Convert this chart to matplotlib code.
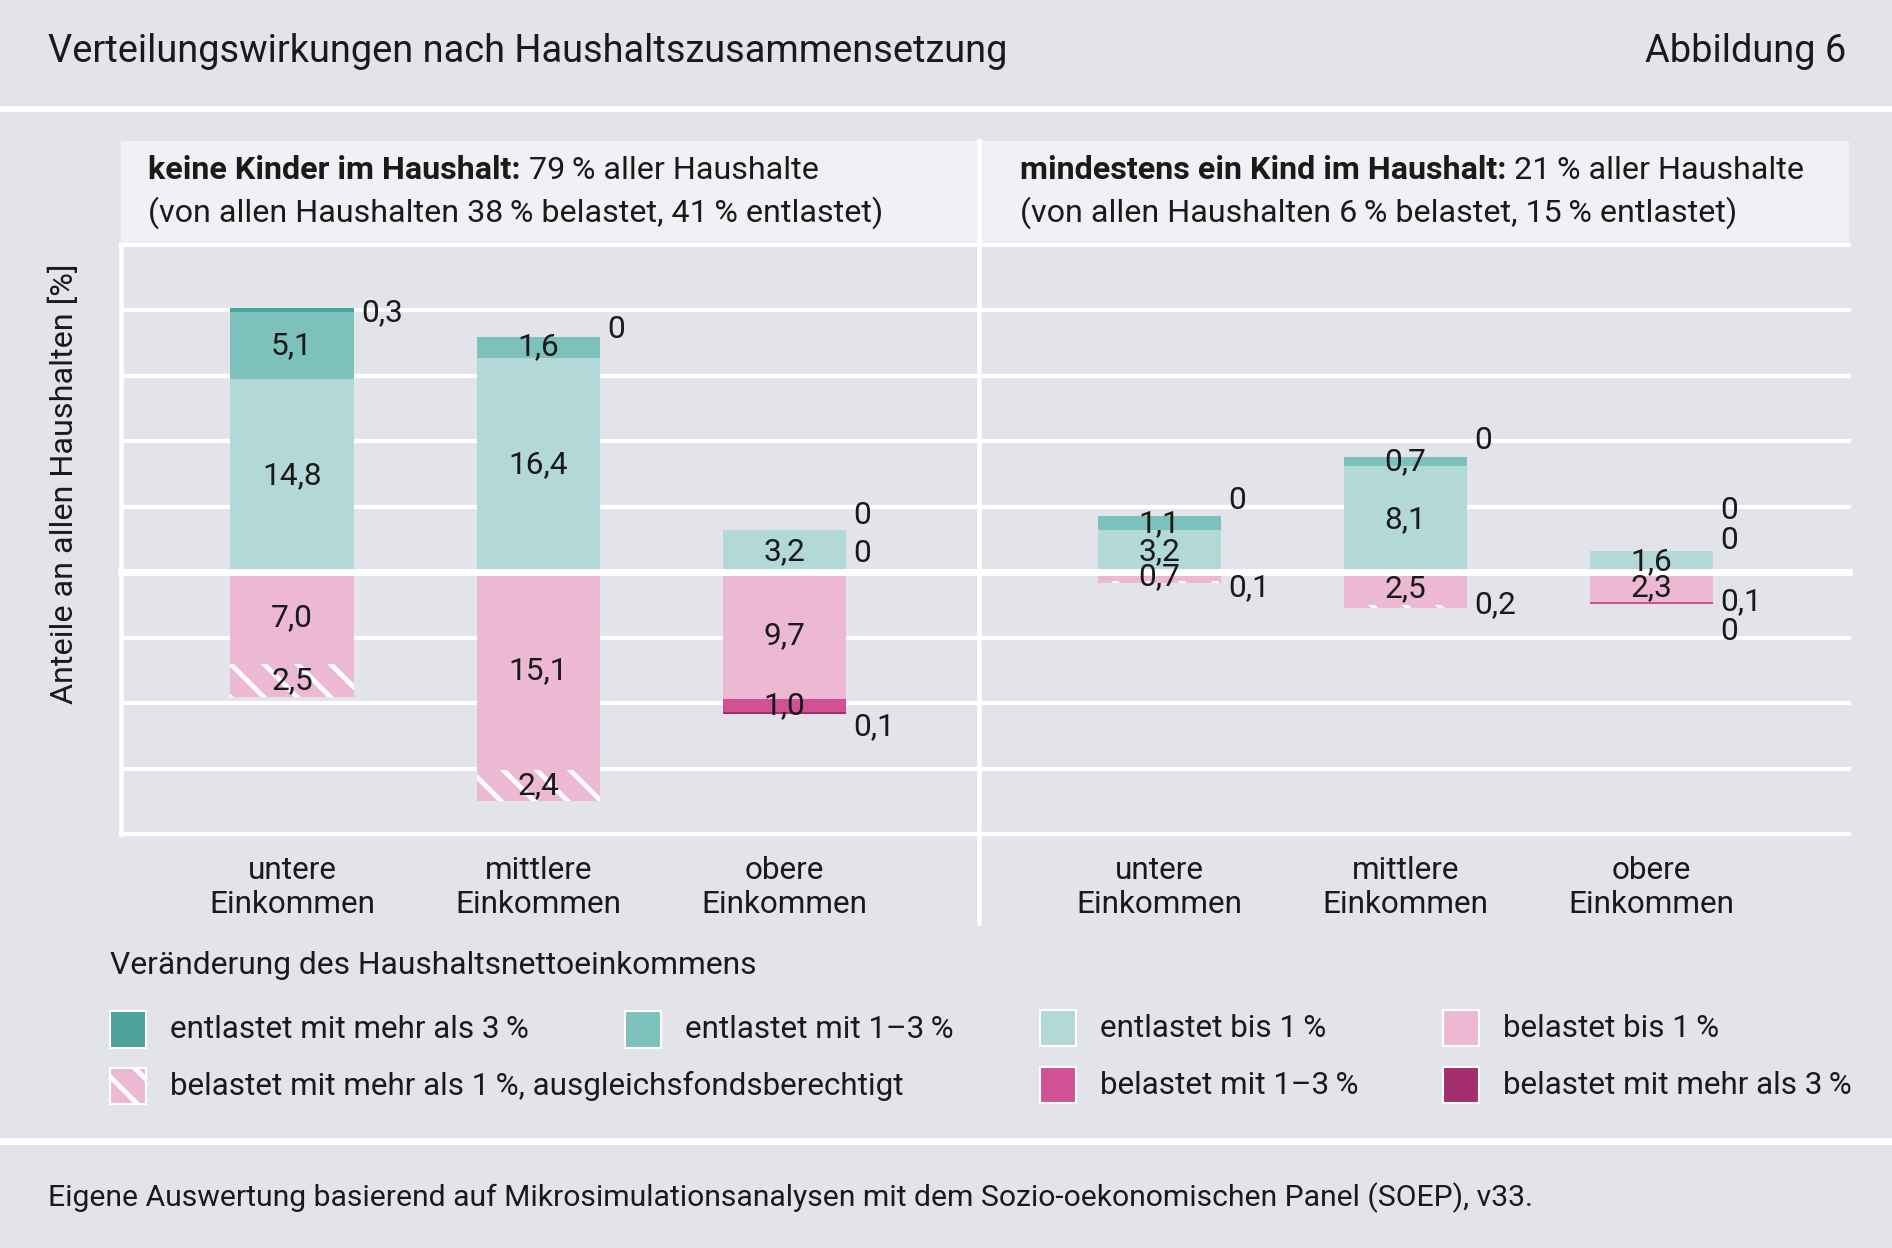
import numpy as np
import matplotlib.pyplot as plt
from matplotlib.patches import Rectangle
from matplotlib.lines import Line2D

plt.rcParams['font.family'] = ['Roboto', 'DejaVu Sans']
plt.rcParams['hatch.linewidth'] = 3.5

# categories and series
categories = ['untere\nEinkommen', 'mittlere\nEinkommen', 'obere\nEinkommen']
series_keys = ['ent3', 'ent13', 'ent1', 'bel1', 'belaf', 'bel13', 'bel3']
series_names = ['entlastet mit mehr als 3\u2009%', 'entlastet mit 1–3\u2009%', 'entlastet bis 1\u2009%',
                'belastet bis 1\u2009%', 'belastet mit mehr als 1\u2009%, ausgleichsfondsberechtigt',
                'belastet mit 1–3\u2009%', 'belastet mit mehr als 3\u2009%']

# keine Kinder im Haushalt (nan = not shown)
nk_ent3 = [0.3, 0.0, 0.0]
nk_ent13 = [5.1, 1.6, 0.0]
nk_ent1 = [14.8, 16.4, 3.2]
nk_bel1 = [7.0, 15.1, 9.7]
nk_belaf = [2.5, 2.4, np.nan]
nk_bel13 = [np.nan, np.nan, 1.0]
nk_bel3 = [np.nan, np.nan, 0.1]

# mindestens ein Kind im Haushalt
mk_ent3 = [0.0, 0.0, 0.0]
mk_ent13 = [1.1, 0.7, 0.0]
mk_ent1 = [3.2, 8.1, 1.6]
mk_bel1 = [0.7, 2.5, 2.3]
mk_belaf = [0.1, 0.2, np.nan]
mk_bel13 = [np.nan, np.nan, 0.1]
mk_bel3 = [np.nan, np.nan, 0.0]

panel_titles = ['keine Kinder im Haushalt:', 'mindestens ein Kind im Haushalt:']
panel_share = [' 79\u2009% aller Haushalte', ' 21\u2009% aller Haushalte']
panel_sub = ['(von allen Haushalten 38\u2009% belastet, 41\u2009% entlastet)',
             '(von allen Haushalten 6\u2009% belastet, 15\u2009% entlastet)']

BG = '#e3e4e9'
HEAD = '#f0f1f5'
TXT = '#1a1a1a'
colors = {'ent3': '#4ba39b', 'ent13': '#7dc1bd', 'ent1': '#b2d9d8', 'bel1': '#ecb8d3',
          'belaf': '#ecb8d3', 'bel13': '#d05194', 'bel3': '#a52e6e'}

S = 1892 / 1568  # layout below measured on a 1568 px wide copy
FS = 22.8        # value labels

# vertical nudges (px, up) for small values written beside the bars
side_dy = {(0, 0, 'ent3'): -2, (0, 1, 'ent3'): 6, (0, 2, 'ent3'): 12, (0, 2, 'ent13'): -19,
           (0, 2, 'bel3'): -11, (1, 0, 'ent3'): 13, (1, 0, 'belaf'): -5, (1, 1, 'ent3'): 14,
           (1, 1, 'belaf'): 1, (1, 2, 'ent3'): 34, (1, 2, 'ent13'): 9, (1, 2, 'bel13'): 1,
           (1, 2, 'bel3'): -23}


def fx(px):
    return px / 1568


def fy(px):
    return 1 - px / 1034


def fmt(v):
    return '0' if v == 0 else f'{v:.1f}'.replace('.', ',')


fig = plt.figure(figsize=(18.92, 12.48), dpi=100, facecolor=BG)

# white separators between title, chart and source bands
for y0, y1 in [(88, 93), (943, 949)]:
    fig.patches.append(Rectangle((0, fy(y1)), 1, fy(y0) - fy(y1), transform=fig.transFigure,
                                 facecolor='white', lw=0, zorder=0))

fig.text(fx(40), fy(43), 'Verteilungswirkungen nach Haushaltszusammensetzung', fontsize=27.4,
         color=TXT, va='center', ha='left')
fig.text(fx(1530), fy(43), 'Abbildung 6', fontsize=27.4, color=TXT, va='center', ha='right')
fig.text(fx(40), fy(992), 'Eigene Auswertung basierend auf Mikrosimulationsanalysen mit dem '
         'Sozio-oekonomischen Panel (SOEP), v33.', fontsize=21.7, color=TXT, va='center')

panels = [
    dict(pos=[('ent1', nk_ent1), ('ent13', nk_ent13), ('ent3', nk_ent3)],
         neg=[('bel1', nk_bel1), ('belaf', nk_belaf), ('bel13', nk_bel13), ('bel3', nk_bel3)],
         left=100, right=810, xlim=(-0.696, 2.784), tx=123),
    dict(pos=[('ent1', mk_ent1), ('ent13', mk_ent13), ('ent3', mk_ent3)],
         neg=[('bel1', mk_bel1), ('belaf', mk_belaf), ('bel13', mk_bel13), ('bel3', mk_bel3)],
         left=813, right=1532, xlim=(-0.725, 2.80), tx=845),
]

renderer = fig.canvas.get_renderer()
x = np.arange(len(categories))
bw = 0.5

for p, pan in enumerate(panels):
    # header box
    fig.patches.append(Rectangle((fx(pan['left']), fy(201)), fx(pan['right']) - fx(pan['left']),
                                 fy(117) - fy(201), transform=fig.transFigure, facecolor=HEAD,
                                 lw=0, zorder=0))
    t1 = fig.text(fx(pan['tx']), fy(141), panel_titles[p], fontsize=23.2, fontweight='bold',
                  color=TXT, va='center')
    bb = t1.get_window_extent(renderer)
    fig.text(bb.x1 / fig.bbox.width, fy(141), panel_share[p], fontsize=23.2, color=TXT,
             va='center')
    fig.text(fx(pan['tx']), fy(176), panel_sub[p], fontsize=23.2, color=TXT, va='center')

    ax = fig.add_axes([fx(pan['left']), fy(691), fx(pan['right']) - fx(pan['left']),
                       fy(203) - fy(691)])
    ax.set_facecolor(BG)
    ax.set_xlim(*pan['xlim'])
    ax.set_ylim(-20, 25)
    for s in ax.spines.values():
        s.set_visible(False)
    ax.set_yticks([])
    ax.set_xticks(x, categories)
    ax.tick_params(axis='x', length=0, pad=16, labelsize=22.7, labelcolor=TXT)

    for yv in range(-20, 30, 5):
        if yv == 0:
            ax.axhline(yv, color='white', lw=5, zorder=4, clip_on=False)
        else:
            ax.axhline(yv, color='white', lw=3, zorder=1, clip_on=False)
    if p == 0:
        ax.plot([0, 0], [0, 1], transform=ax.transAxes, color='white', lw=3.3, clip_on=False,
                zorder=1)

    for sign, stack in [(1, pan['pos']), (-1, pan['neg'])]:
        base = np.zeros(len(x))
        for key, vals in stack:
            vals = np.asarray(vals, dtype=float)
            v = np.nan_to_num(vals)
            ax.bar(x, sign * v, bottom=base, width=bw, color=colors[key], lw=0, zorder=2,
                   hatch='\\' if key == 'belaf' else None,
                   edgecolor='white' if key == 'belaf' else colors[key])
            for i in range(len(x)):
                if np.isnan(vals[i]):
                    continue
                yc = base[i] + sign * v[i] / 2
                if vals[i] >= 0.7:
                    ax.text(x[i], yc, fmt(vals[i]), ha='center', va='center', fontsize=FS,
                            color=TXT, zorder=5)
                else:
                    dy = side_dy.get((p, i, key), 0) * S
                    ax.annotate(fmt(vals[i]), (x[i] + bw / 2, yc), xytext=(6 * S, dy),
                                textcoords='offset pixels', ha='left', va='center',
                                fontsize=FS, color=TXT, zorder=5, annotation_clip=False)
            base = base + sign * v

# divider between panels
fig.lines.append(Line2D([fx(811.5)] * 2, [fy(117), fy(765)], transform=fig.transFigure,
                        color='white', lw=3.3))

fig.text(fx(53), fy(401), 'Anteile an allen Haushalten [%]', rotation=90, fontsize=23.3,
         color=TXT, ha='center', va='center')

# legend
fig.text(fx(91), fy(800), 'Veränderung des Haushaltsnettoeinkommens', fontsize=22.9, color=TXT,
         va='center')
legend_slots = {'ent3': (91, 853), 'ent13': (518, 853), 'ent1': (862, 852), 'bel1': (1196, 852),
                'belaf': (91, 900), 'bel13': (862, 899), 'bel3': (1196, 899)}
for key, name in zip(series_keys, series_names):
    lx, ly = legend_slots[key]
    fig.patches.append(Rectangle((fx(lx), fy(ly + 15)), fx(30), 30 / 1034,
                                 transform=fig.transFigure, facecolor=colors[key],
                                 edgecolor='white', lw=1.5,
                                 hatch='\\' if key == 'belaf' else None))
    fig.text(fx(lx + 50), fy(ly), name, fontsize=22.6, color=TXT, va='center')

fig.savefig('out.png', dpi=100, facecolor=BG)
